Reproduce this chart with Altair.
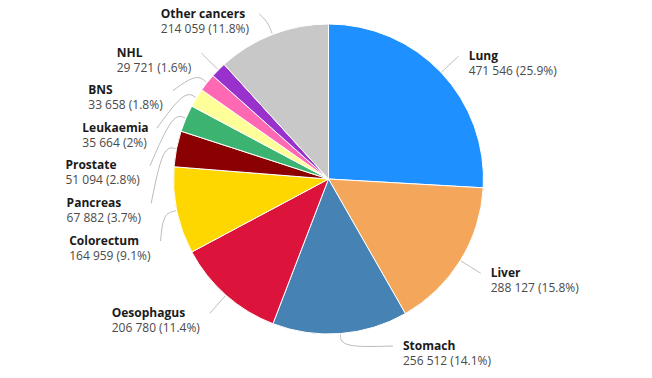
import math
import altair as alt
import pandas as pd

# ---- data ----
names = ["Lung", "Liver", "Stomach", "Oesophagus", "Colorectum", "Pancreas",
         "Prostate", "Leukaemia", "BNS", "NHL", "Other cancers"]
counts = [471546, 288127, 256512, 206780, 164959, 67882,
          51094, 35664, 33658, 29721, 214059]
pct_labels = ["25.9%", "15.8%", "14.1%", "11.4%", "9.1%", "3.7%",
              "2.8%", "2%", "1.8%", "1.6%", "11.8%"]
colors = ["#1E90FF", "#F4A65A", "#4682B4", "#DC143C", "#FFD700", "#8B0000",
          "#3CB371", "#FFFF99", "#FF69B4", "#9932CC", "#C8C8C8"]

# ---- layout ----
W, H = 652, 378
CX, CY, R = 328.5, 179, 155
RL = 179          # leader end radius
GAP = 37.6        # min vertical spacing of left labels
TOP_Y, BOT_Y = 14, 346

FONT = "Open Sans"
FS = 12
# Open Sans advance widths (em)
CW = {d: 0.572 for d in "0123456789"}
CW.update({" ": 0.26, "(": 0.296, ")": 0.296, ".": 0.266, "%": 0.831})


def text_w(s):
    return sum(CW.get(c, 0.55) for c in s) * FS


total = sum(counts)
rows = []
cum = 0
for i, (n, c, p) in enumerate(zip(names, counts, pct_labels)):
    mid = (cum + c / 2) / total * 2 * math.pi
    cum += c
    val = f"{c:,}".replace(",", " ") + f" ({p})"
    rows.append(dict(order=i, name=n, count=c, val=val, mid=mid,
                     side="R" if math.sin(mid) >= 0 else "L",
                     ideal=CY - RL * math.cos(mid)))

# push-apart layout per side
for side in ("L", "R"):
    grp = sorted([r for r in rows if r["side"] == side], key=lambda r: r["ideal"])
    prev = None
    for r in grp:
        y = max(r["ideal"], TOP_Y)
        if prev is not None:
            y = max(y, prev + GAP)
        r["ly"] = min(y, BOT_Y)
        prev = r["ly"]

label_rows, line_rows = [], []
for r in rows:
    sgn = 1 if r["side"] == "R" else -1
    dy = r["ly"] - CY
    dx = math.sqrt(max(RL ** 2 - dy ** 2, 0)) * sgn
    ex, ey = CX + dx, r["ly"]
    if sgn > 0:
        tx = ex + 10
    else:
        tx = ex - 10 - text_w(r["val"])
    label_rows.append(dict(name=r["name"], val=r["val"], tx=tx,
                           ny=r["ly"] - 0.5, vy=r["ly"] + 14.5))
    sx = CX + (R + 1) * math.sin(r["mid"])
    sy = CY - (R + 1) * math.cos(r["mid"])
    mx = CX + (R + 14) * math.sin(r["mid"])
    my = CY - (R + 14) * math.cos(r["mid"])
    for k, (px, py) in enumerate([(sx, sy), (mx, my), (ex, ey)]):
        line_rows.append(dict(name=r["name"], k=k, px=px, py=py))

df = pd.DataFrame(rows)[["order", "name", "count"]]
labels = pd.DataFrame(label_rows)
lines = pd.DataFrame(line_rows)

pie = alt.Chart(df).mark_arc(radius=R, stroke="white", strokeWidth=1).encode(
    theta=alt.Theta("count:Q", stack=True),
    order=alt.Order("order:Q"),
    color=alt.Color("name:N", scale=alt.Scale(domain=names, range=colors), legend=None),
    x=alt.value(CX), y=alt.value(CY),
)

leaders = alt.Chart(lines).mark_line(color="#BBBBBB", strokeWidth=1,
                                     interpolate="basis").encode(
    x=alt.X("px:Q", scale=None, axis=None),
    y=alt.Y("py:Q", scale=None, axis=None),
    detail="name:N",
    order="k:Q",
)

name_txt = alt.Chart(labels).mark_text(align="left", baseline="middle", font=FONT,
                                       fontSize=FS, fontWeight="bold",
                                       color="#1a1a1a").encode(
    x=alt.X("tx:Q", scale=None, axis=None),
    y=alt.Y("ny:Q", scale=None, axis=None),
    text="name:N",
)
val_txt = alt.Chart(labels).mark_text(align="left", baseline="middle", font=FONT,
                                      fontSize=FS, color="#4a4a4a").encode(
    x=alt.X("tx:Q", scale=None, axis=None),
    y=alt.Y("vy:Q", scale=None, axis=None),
    text="val:N",
)

chart = alt.layer(pie, leaders, name_txt, val_txt).properties(
    width=W, height=H, padding=0, autosize=alt.AutoSizeParams(type="none"),
    background="white",
).configure_view(stroke=None)

chart.save("out.html", embed_options={"renderer": "svg", "actions": False})
